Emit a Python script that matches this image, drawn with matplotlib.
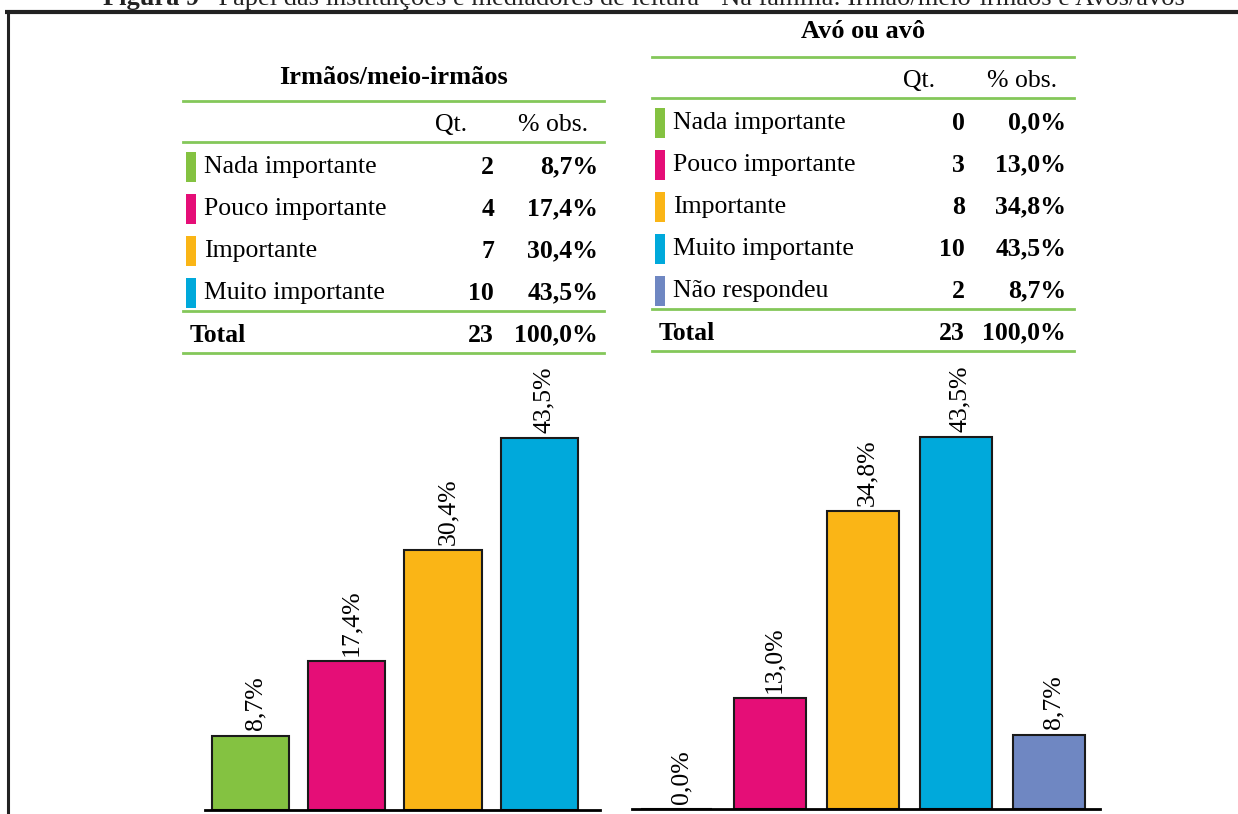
import matplotlib.pyplot as plt

# data
cats_irmaos = ['Nada importante', 'Pouco importante', 'Importante', 'Muito importante']
qt_irmaos = [2, 4, 7, 10]
pct_irmaos = [8.7, 17.4, 30.4, 43.5]

cats_avos = ['Nada importante', 'Pouco importante', 'Importante', 'Muito importante', 'Não respondeu']
qt_avos = [0, 3, 8, 10, 2]
pct_avos = [0.0, 13.0, 34.8, 43.5, 8.7]

colors = ['#84c241', '#e50e77', '#fab516', '#00a9db', '#6f87c2']
green = '#84c75a'

plt.rcParams['font.family'] = ['Liberation Serif', 'DejaVu Serif']

W, H = 1238, 814
fig = plt.figure(figsize=(W / 100, H / 100), dpi=100)

# full-figure pixel axes for the frame and the tables
bg = fig.add_axes([0, 0, 1, 1])
bg.set_xlim(0, W)
bg.set_ylim(H, 0)
bg.axis('off')

# caption (cut at the top in the original)
bg.text(199, 5, 'Figura 9', ha='right', va='baseline', fontsize=19, fontweight='bold', color='#222222')
bg.text(203, 5, '- Papel das instituições e mediadores de leitura - Na família: Irmão/meio-irmãos e Avós/avós',
        ha='left', va='baseline', fontsize=19, color='#222222')
bg.plot([5, W], [12, 12], color='#222222', lw=3, solid_capstyle='butt')
bg.plot([8, 8], [12, H], color='#222222', lw=2.2, solid_capstyle='butt')


def fmt(v):
    return f'{v:.1f}'.replace('.', ',') + '%'


def draw_table(title, title_y, x0, x1, top, cats, qts, pcts, qt_x, pct_x, hdr_qt_x, hdr_pct_x):
    fs = 18.5
    bg.text((x0 + x1) / 2, title_y, title, ha='center', va='center', fontsize=19, fontweight='bold')
    hdr_y = top + 24
    line2 = top + 41
    bg.plot([x0, x1], [top, top], color=green, lw=2)
    bg.plot([x0, x1], [line2, line2], color=green, lw=2)
    bg.text(hdr_qt_x, hdr_y, 'Qt.', ha='center', va='center', fontsize=fs)
    bg.text(hdr_pct_x, hdr_y, '% obs.', ha='center', va='center', fontsize=fs)
    y = line2 + 25
    for i, c in enumerate(cats):
        bg.add_patch(plt.Rectangle((x0 + 3, y - 15), 10, 30, color=colors[i], lw=0))
        bg.text(x0 + 21, y, c, ha='left', va='center', fontsize=fs)
        bg.text(qt_x, y, str(qts[i]), ha='right', va='center', fontsize=fs, fontweight='bold')
        bg.text(pct_x, y, fmt(pcts[i]), ha='right', va='center', fontsize=fs, fontweight='bold')
        y += 42
    line3 = y - 24
    bg.plot([x0, x1], [line3, line3], color=green, lw=2)
    ty = line3 + 24
    bg.text(x0 + 7, ty, 'Total', ha='left', va='center', fontsize=fs, fontweight='bold')
    bg.text(qt_x, ty, str(sum(qts)), ha='right', va='center', fontsize=fs, fontweight='bold')
    bg.text(pct_x, ty, fmt(100.0), ha='right', va='center', fontsize=fs, fontweight='bold')
    bg.plot([x0, x1], [line3 + 42, line3 + 42], color=green, lw=2)


draw_table('Irmãos/meio-irmãos', 78, 183, 604, 101, cats_irmaos, qt_irmaos, pct_irmaos,
           494, 598, 451, 553)
draw_table('Avó ou avô', 32, 652, 1074, 57, cats_avos, qt_avos, pct_avos,
           965, 1066, 919, 1022)


def bar_axes(px0, px1, base, vals, xlim, width):
    scale = 8.55  # px per percent
    top_val = 50
    ax = fig.add_axes([px0 / W, (H - base) / H, (px1 - px0) / W, top_val * scale / H])
    n = len(vals)
    xs = list(range(n))
    ax.bar(xs, vals, width=width, color=colors[:n], edgecolor='#1a1a1a', linewidth=1.5)
    for x, v in zip(xs, vals):
        ax.text(x + 0.05, v + 0.6, fmt(v), rotation=90, ha='center', va='bottom', fontsize=18.5)
    ax.set_xlim(*xlim)
    ax.set_ylim(0, top_val)
    for s in ['top', 'right', 'left']:
        ax.spines[s].set_visible(False)
    ax.spines['bottom'].set_linewidth(2)
    ax.set_xticks([])
    ax.set_yticks([])
    ax.patch.set_alpha(0)
    return ax


ax1 = bar_axes(205, 600, 810, pct_irmaos, (-0.47, 3.63), 0.8)
ax2 = bar_axes(632, 1100, 809, pct_avos, (-0.48, 4.55), 0.77)

fig.savefig('out.png', dpi=100)
